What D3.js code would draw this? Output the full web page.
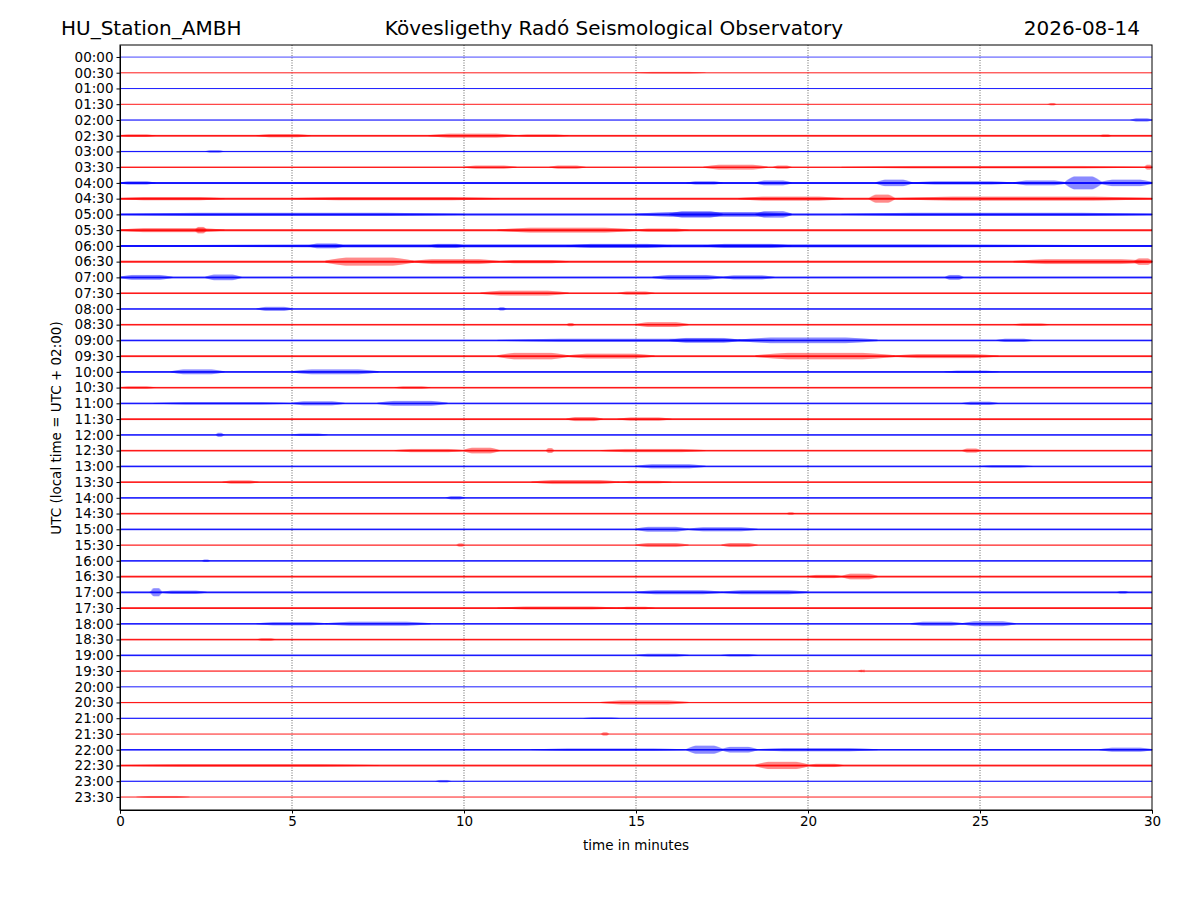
<!DOCTYPE html>
<html><head><meta charset="utf-8">
<script src="https://cdn.jsdelivr.net/npm/d3@7"></script>
<style>body{margin:0;background:#fff}svg text{font-family:"DejaVu Sans",sans-serif}</style>
</head><body>
<script>
const rowLabels = [];
for (let h = 0; h < 24; h++) { const hh = String(h).padStart(2,"0"); rowLabels.push(hh+":00", hh+":30"); }
const xTicks = [0,5,10,15,20,25,30];
// background noise half-amplitude (px) per row
const baseNoise = [0.3,0.4,0.4,0.4,0.5,0.8,0.5,0.6,0.9,0.9,0.9,0.9,0.9,0.9,0.8,0.7,0.7,0.7,0.7,0.8,0.8,0.7,0.7,0.8,0.7,0.7,0.7,0.7,0.7,0.7,0.7,0.5,0.7,0.8,0.8,0.8,0.7,0.7,0.7,0.5,0.4,0.5,0.5,0.4,0.7,0.8,0.5,0.4];
// bursts per row: [start minute, end minute, half-amplitude px]
const events = [
 [],[[15,17,1]],[],[[27,27.2,1.5]],[[29.4,30,2]],
 [[0,1,1.5],[4,5.5,2],[9,11.5,2.5],[11.5,13,1.5],[28.5,28.8,1.5]],
 [[2.5,3,1.5]],
 [[10,11.5,2],[12.5,13.5,2],[17,18.8,3],[19,19.5,2],[21,30,1.5],[29.8,30,3]],
 [[0,1,2],[16.5,17.5,2],[18.5,19.5,3],[22,23,4],[23,26,2],[26,27.5,3],[27.5,28.5,8],[28.5,30,4]],
 [[0,3,2],[5,11,2],[18,21,2.5],[21.8,22.5,5],[22.5,30,2.5]],
 [[0,10,2],[15,19.5,3],[16,17.5,4],[18.5,19.5,4],[21,30,2]],
 [[0,3,2.5],[2.2,2.5,4],[11,15,3],[15,16.5,2]],
 [[0,30,2],[5.5,6.5,3],[9,10,2.5],[13,16,2.5],[17,19.5,2.5]],
 [[6,8.5,5],[8.5,11,3],[11,13,2],[26,30,3],[29.5,30,4]],
 [[0,1.5,3],[2.5,3.5,3.5],[15.5,17.5,3],[17.5,19,2.5],[24,24.5,3]],
 [[10.5,13,3],[14.5,15.5,2]],
 [[4,5,2.5],[11,11.2,2]],
 [[13,13.2,2],[15,16.5,3],[26,27,1.5]],
 [[11,19,2],[16,18,3],[18,22,3.5],[25.5,26.5,2]],
 [[11,13,4],[13,15.5,3],[18.5,22.5,4],[22.5,25.5,2.5]],
 [[1.5,3,3],[5,7.5,3],[24,25.5,1.5]],
 [[0,1,1.5],[8,9,1.5]],
 [[1,5,1.5],[5,6.5,2.5],[7.5,9.5,3],[24.5,25.5,2]],
 [[13,14,2.5],[14.5,16,2]],
 [[2.8,3,2.5],[5,6,1.5]],
 [[8,10,2],[10,11,3.5],[12.4,12.6,3],[14,17,2],[24.5,25,2.5]],
 [[15,17,2.5],[25,26.5,1.5]],
 [[3,4,2],[12,14.5,2.5],[14.5,16,1.5]],
 [[9.5,10,2]],
 [[19.4,19.6,1.5]],
 [[15,16.5,3],[16.5,18.5,2.5]],
 [[9.8,10,2],[15,16.5,2.5],[17.5,18.5,2.5]],
 [[2.4,2.6,1.5]],
 [[20,21,2],[21,22,3.5]],
 [[0.9,1.2,5],[1.2,2.5,2],[15,17.5,2.5],[17.5,20,2.5],[29,29.3,1.5]],
 [[11,14.5,1.8],[14.5,15.5,1.5]],
 [[4,6,2],[6,9,2.5],[23,24.5,2.5],[24.5,26,3]],
 [[4,4.5,1.5]],
 [[15,16.5,1.8],[17.5,18.5,1.5]],
 [[21.5,21.6,1.5]],
 [],
 [[14,16.5,2.5]],
 [[13.5,14.5,1]],
 [[14,14.2,2]],
 [[12,16.5,1.5],[16.5,17.5,5],[17.5,18.5,3.5],[18.5,22,2],[28.5,30,2.5]],
 [[0,7.5,1.5],[18.5,20,4.5],[20,21,2]],
 [[9.2,9.6,1.5]],
 [[0.5,2,1.2]]
];
const W=1200,H=900,L=120,R=1152,T=45,B=810;
const svg=d3.select("body").append("svg").attr("width",W).attr("height",H);
const x=d3.scaleLinear().domain([0,30]).range([L,R]);
const y=d3.scaleLinear().domain([-0.76,47.83]).range([T,B]);
svg.append("g").selectAll("line").data(xTicks.slice(1,-1)).join("line")
 .attr("x1",d=>x(d)).attr("x2",d=>x(d)).attr("y1",T).attr("y2",B)
 .attr("stroke","#000").attr("stroke-width",0.6).attr("stroke-dasharray","1,1.5");
const colors=["#0000ff","#ff0000"];
rowLabels.forEach((lab,i)=>{
  const c=colors[i%2], yc=y(i), g=svg.append("g");
  g.append("rect").attr("x",L).attr("width",R-L).attr("y",yc-baseNoise[i]).attr("height",baseNoise[i]*2+0.2).attr("fill",c).attr("opacity",0.9);
  events[i].forEach(([s,e,a])=>{
    const xs=d3.range(Math.floor(x(s)),Math.ceil(x(e))+1,1);
    const env=px=>{const u=(x.invert(px)-s)/(e-s);return 0.8*a*Math.min(1,4*u*(1-u)+0.3);};
    g.append("g").selectAll("line").data(xs).join("line")
      .attr("x1",d=>d).attr("x2",d=>d).attr("y1",d=>yc-env(d)).attr("y2",d=>yc+env(d))
      .attr("stroke",c).attr("stroke-width",0.7).attr("opacity",0.75);
  });
});
const ax=svg.append("g").attr("transform",`translate(0,${B})`).call(d3.axisBottom(x).tickValues(xTicks).tickSizeOuter(0).tickSize(3.5));
const ay=svg.append("g").attr("transform",`translate(${L},0)`).call(d3.axisLeft(y).tickValues(d3.range(48)).tickFormat(i=>rowLabels[i]).tickSize(3.5).tickSizeOuter(0));
[ax,ay].forEach(g=>g.attr("font-family",null).attr("font-size",null).selectAll("text").style("font-size","13.5px").attr("fill","#000"));
svg.append("rect").attr("x",L).attr("y",T).attr("width",R-L).attr("height",B-T).attr("fill","none").attr("stroke","#000");
svg.append("text").attr("x",636).attr("y",850).attr("text-anchor","middle").style("font-size","13.5px").text("time in minutes");
svg.append("text").attr("transform","translate(61,428) rotate(-90)").attr("text-anchor","middle").style("font-size","13.5px").text("UTC (local time = UTC + 02:00)");
svg.append("text").attr("x",61).attr("y",35).attr("font-size",20).text("HU_Station_AMBH");
svg.append("text").attr("x",614).attr("y",35).attr("text-anchor","middle").attr("font-size",20).text("Kövesligethy Radó Seismological Observatory");
svg.append("text").attr("x",1140).attr("y",35).attr("text-anchor","end").attr("font-size",20).text("2026-08-14");
</script>
</body></html>
